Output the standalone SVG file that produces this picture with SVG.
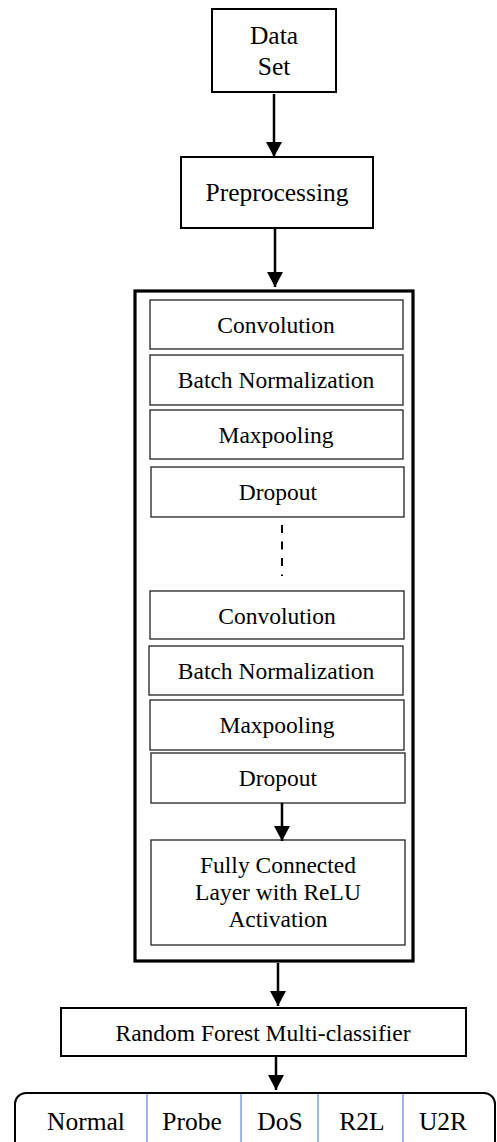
<svg xmlns="http://www.w3.org/2000/svg" width="497" height="1142" viewBox="0 0 497 1142">
<style>
text{font-family:"Liberation Serif","Times New Roman",serif;fill:#000;text-anchor:middle}
.box{fill:#fff;stroke:#000;stroke-width:2}
.inner{fill:#fff;stroke:#222;stroke-width:1.3}
.t24{font-size:23.5px}
.t26{font-size:25.5px}
.conn{stroke:#000;stroke-width:2.5;fill:none}
.div{stroke:#5b87d6;stroke-width:1.2}
</style>
<defs>
<marker id="ah" markerWidth="15" markerHeight="16" refX="15" refY="8" orient="auto" markerUnits="userSpaceOnUse" viewBox="0 0 15 16">
<path d="M0,0 L15,8 L0,16 Z" fill="#000"/>
</marker>
</defs>
<rect width="497" height="1142" fill="#fff"/>
<g id="dataset"><rect class="box" x="212" y="9" width="124" height="83"/><text class="t26" x="274" y="44">Data</text><text class="t26" x="274" y="75">Set</text></g>
<g id="preprocessing"><rect class="box" x="181" y="157" width="192" height="71"/><text class="t26" x="277" y="201">Preprocessing</text></g>
<g id="cnn"><rect x="135" y="291" width="278" height="670" fill="#fff" stroke="#000" stroke-width="3.2"/>
<g id="conv1"><rect class="inner" x="150" y="300" width="253" height="49"/><text class="t24" x="276" y="333">Convolution</text></g>
<g id="bn1"><rect class="inner" x="150" y="355" width="253" height="50"/><text class="t24" x="276" y="388">Batch Normalization</text></g>
<g id="mp1"><rect class="inner" x="150" y="410" width="253" height="49"/><text class="t24" x="276" y="443">Maxpooling</text></g>
<g id="do1"><rect class="inner" x="151" y="467" width="253" height="50"/><text class="t24" x="278" y="500">Dropout</text></g>
<g id="conv2"><rect class="inner" x="150" y="591" width="254" height="48"/><text class="t24" x="277" y="624">Convolution</text></g>
<g id="bn2"><rect class="inner" x="149" y="646" width="254" height="49"/><text class="t24" x="276" y="679">Batch Normalization</text></g>
<g id="mp2"><rect class="inner" x="150" y="700" width="254" height="50"/><text class="t24" x="277" y="733">Maxpooling</text></g>
<g id="do2"><rect class="inner" x="151" y="753" width="254" height="50"/><text class="t24" x="278" y="786">Dropout</text></g>
<g id="fc"><rect class="inner" x="151" y="840" width="254" height="105"/><text class="t24" x="278" y="873">Fully Connected</text><text class="t24" x="278" y="900">Layer with ReLU</text><text class="t24" x="278" y="927">Activation</text></g>
</g>
<g id="rf"><rect class="box" x="61" y="1008" width="405" height="48"/><text class="t24" x="263" y="1041">Random Forest Multi-classifier</text></g>
<g id="classes"><rect x="15" y="1093" width="480" height="80" rx="11" ry="11" fill="#fff" stroke="#000" stroke-width="2"/>
<line class="div" x1="147" y1="1094" x2="147" y2="1142"/>
<line class="div" x1="241" y1="1094" x2="241" y2="1142"/>
<line class="div" x1="318" y1="1094" x2="318" y2="1142"/>
<line class="div" x1="403" y1="1094" x2="403" y2="1142"/>
<text class="t26" x="86" y="1130">Normal</text>
<text class="t26" x="192" y="1130">Probe</text>
<text class="t26" x="280" y="1130">DoS</text>
<text class="t26" x="362" y="1130">R2L</text>
<text class="t26" x="443" y="1130">U2R</text>
</g>
<g id="connectors">
<line class="conn" x1="274" y1="94" x2="274" y2="157" marker-end="url(#ah)"/>
<line class="conn" x1="275" y1="229" x2="275" y2="287" marker-end="url(#ah)"/>
<line x1="282" y1="525" x2="282" y2="576" stroke="#000" stroke-width="2" stroke-dasharray="8,8.5"/>
<line class="conn" x1="282" y1="803" x2="282" y2="841" marker-end="url(#ah)"/>
<line class="conn" x1="278" y1="963" x2="278" y2="1006" marker-end="url(#ah)"/>
<line class="conn" x1="276" y1="1057" x2="276" y2="1090" marker-end="url(#ah)"/>
</g>
</svg>
